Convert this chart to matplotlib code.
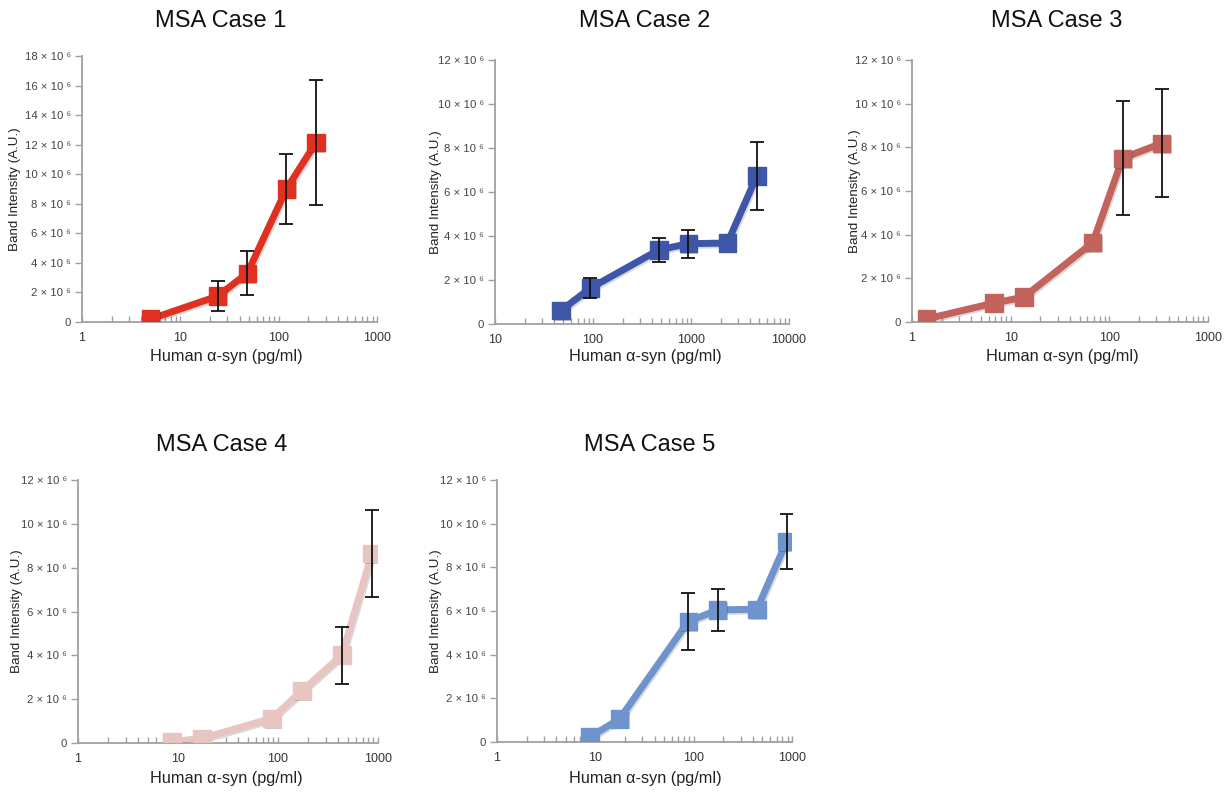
import numpy as np
import matplotlib
matplotlib.use("Agg")
import matplotlib.pyplot as plt
import matplotlib.patheffects as pe
from matplotlib.ticker import LogLocator, NullFormatter, FuncFormatter, MultipleLocator

plt.rcParams["font.family"] = ["Liberation Sans", "DejaVu Sans"]

# Band intensity values are in units of 10^6 (A.U.)
case1_x = [5, 24, 48, 120, 240]
case1_y = [0.2, 1.75, 3.3, 9.0, 12.15]
case1_err = [0, 1.0, 1.5, 2.4, 4.2]

case2_x = [47, 94, 470, 940, 2350, 4700]
case2_y = [0.61, 1.63, 3.37, 3.65, 3.68, 6.73]
case2_err = [0, 0.46, 0.53, 0.63, 0, 1.55]

case3_x = [1.4, 6.8, 13.6, 68, 136, 340]
case3_y = [0.14, 0.87, 1.14, 3.64, 7.5, 8.19]
case3_err = [0, 0, 0, 0, 2.62, 2.47]

case4_x = [8.7, 17.4, 87, 174, 435, 870]
case4_y = [0.06, 0.21, 1.13, 2.39, 4.01, 8.65]
case4_err = [0, 0, 0, 0, 1.3, 2.0]

case5_x = [8.8, 17.6, 88, 176, 440, 880]
case5_y = [0.23, 1.05, 5.52, 6.05, 6.08, 9.18]
case5_err = [0, 0, 1.3, 0.95, 0, 1.25]

titles = ["MSA Case 1", "MSA Case 2", "MSA Case 3", "MSA Case 4", "MSA Case 5"]
xs = [case1_x, case2_x, case3_x, case4_x, case5_x]
ys = [case1_y, case2_y, case3_y, case4_y, case5_y]
errs = [case1_err, case2_err, case3_err, case4_err, case5_err]
colors = ["#e0301f", "#3e56a8", "#c2635c", "#e8c5c1", "#6f94cd"]
xlims = [(1, 1000), (10, 10000), (1, 1000), (1, 1000), (1, 1000)]
ymaxes = [18, 12, 12, 12, 12]

W, H = 1229, 792
# axes boxes in pixels: left, top, right, bottom
boxes = [(82, 56, 377, 322), (495, 60, 789, 324), (912, 60, 1208, 322),
         (78, 480, 378, 743), (497, 480, 792, 742)]
title_pos = [(221, 21), (645, 21), (1057, 21), (222, 445), (650, 445)]
xlabel_pos = [(226, 357), (645, 357), (1062, 357), (226, 779), (645, 778)]
ylabel_x = [15, 436, 855, 17, 436]

fig = plt.figure(figsize=(W / 100, H / 100), dpi=100)

spine_col = "#a0a0a0"

for i in range(5):
    l, t, r, b = boxes[i]
    ax = fig.add_axes([l / W, (H - b) / H, (r - l) / W, (b - t) / H])
    x = np.array(xs[i])
    y = np.array(ys[i])
    e = np.array(errs[i])

    ax.plot(x, y, color=colors[i], lw=5, solid_capstyle="butt", zorder=2,
            path_effects=[pe.SimpleLineShadow(offset=(1, -1.2), shadow_color="k", alpha=0.15), pe.Normal()])
    ax.plot(x, y, ls="none", marker="s", ms=12.5, color=colors[i], mec=colors[i], zorder=3,
            path_effects=[pe.SimplePatchShadow(offset=(1, -1.2), shadow_rgbFace="k", alpha=0.2), pe.Normal()])
    m = e > 0
    ax.errorbar(x[m], y[m], yerr=e[m], fmt="none", ecolor="#111111", elinewidth=1.3,
                capsize=5, capthick=1.3, zorder=4)

    ax.set_xscale("log")
    ax.set_xlim(*xlims[i])
    ax.set_ylim(0, ymaxes[i])
    ax.xaxis.set_major_locator(LogLocator(base=10))
    ax.xaxis.set_minor_locator(LogLocator(base=10, subs=np.arange(2, 10)))
    ax.xaxis.set_minor_formatter(NullFormatter())
    ax.xaxis.set_major_formatter(FuncFormatter(lambda v, p: f"{v:.0f}"))
    ax.yaxis.set_major_locator(MultipleLocator(2))
    ax.yaxis.set_major_formatter(FuncFormatter(lambda v, p: "0" if v == 0 else f"{v:.0f} \u00d7 10 \u2076"))

    for s in ["top", "right"]:
        ax.spines[s].set_visible(False)
    for s in ["left", "bottom"]:
        ax.spines[s].set_color(spine_col)
        ax.spines[s].set_linewidth(1.3)
    ax.tick_params(axis="x", which="both", direction="in", color=spine_col, width=1, labelsize=9,
                   labelcolor="#333333", pad=7)
    ax.tick_params(axis="x", which="major", length=4)
    ax.tick_params(axis="x", which="minor", length=4)
    ax.tick_params(axis="y", direction="out", length=5, color=spine_col, width=1, labelsize=8.2,
                   labelcolor="#444444", pad=3)

    ax.set_xlabel("Human \u03b1-syn (pg/ml)", fontsize=11.7, color="#222222")
    ax.xaxis.set_label_coords((xlabel_pos[i][0] - l) / (r - l), (b - xlabel_pos[i][1]) / (b - t))
    ax.xaxis.label.set_va("center")
    ax.set_ylabel("Band Intensity (A.U.)", fontsize=9.6, color="#222222")
    ax.yaxis.set_label_coords((ylabel_x[i] - l) / (r - l), 0.5)
    ax.yaxis.label.set_va("center")

    fig.text(title_pos[i][0] / W, 1 - title_pos[i][1] / H, titles[i], ha="center", va="center",
             fontsize=17, color="#111111")

fig.savefig("out.png", dpi=100)
